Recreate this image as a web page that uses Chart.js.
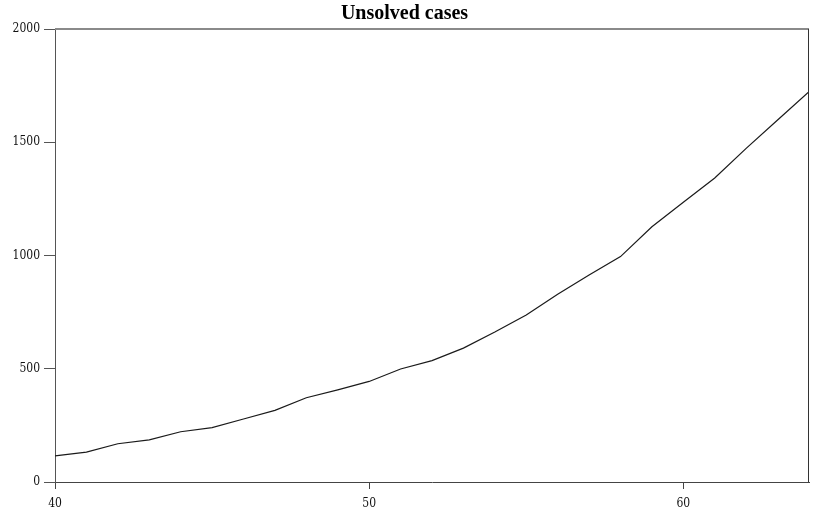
<!DOCTYPE html>
<html>
<head>
<meta charset="utf-8">
<script src="https://cdn.jsdelivr.net/npm/chart.js@4.4.1/dist/chart.umd.min.js"></script>
<style>
  html, body { margin: 0; padding: 0; background: #fff; }
  #wrap { width: 813px; height: 511px; }
</style>
</head>
<body>
<div id="wrap"><canvas id="chart"></canvas></div>
<script>
// day number on x, cases on y
const days = [40, 41, 42, 43, 44, 45, 46, 47, 48, 49, 50, 51, 52,
  53, 54, 55, 56, 57, 58, 59, 60, 61, 62, 63, 64];
const unsolved = [115, 132, 169, 186, 222, 240, 278, 316, 372, 407, 444, 499, 536,
  591, 662, 737, 829, 914, 995, 1127, 1235, 1342, 1473, 1598, 1723];
const xTicks = [40, 50, 60];
const yTicks = [0, 500, 1000, 1500, 2000];

const tickFont = { family: "'DejaVu Serif Condensed', 'DejaVu Serif', serif", size: 12 };

const framePlugin = {
  id: "frame",
  afterDraw(chart) {
    const { ctx, chartArea: a } = chart;
    ctx.save();
    ctx.strokeStyle = "#8a8a8a";
    ctx.lineWidth = 2;
    ctx.beginPath();
    ctx.moveTo(a.left, a.top);
    ctx.lineTo(a.right, a.top);
    ctx.stroke();
    ctx.strokeStyle = "#333";
    ctx.lineWidth = 1;
    ctx.beginPath();
    ctx.moveTo(a.right - 0.5, a.top);
    ctx.lineTo(a.right - 0.5, a.bottom);
    ctx.stroke();
    ctx.restore();
  },
};

new Chart("chart", {
  type: "line",
  data: {
    datasets: [{
      data: days.map((d, i) => ({ x: d, y: unsolved[i] })),
      borderColor: "#1a1a1a",
      borderWidth: 1.2,
      pointRadius: 0,
      tension: 0,
      fill: false,
    }],
  },
  options: {
    responsive: true,
    maintainAspectRatio: false,
    animation: false,
    layout: { padding: { left: 0, right: 4, top: 0, bottom: 0 } },
    plugins: {
      legend: { display: false },
      tooltip: { enabled: false },
      title: {
        display: true,
        text: "Unsolved cases",
        color: "#000",
        font: { family: "'Liberation Serif', 'Times New Roman', serif", size: 20, weight: "bold" },
        padding: { top: 2, bottom: 3 },
      },
    },
    scales: {
      x: {
        type: "linear",
        min: 40,
        max: 64,
        afterFit: s => { s.height = 29; },
        afterBuildTicks: s => { s.ticks = xTicks.map(v => ({ value: v })); },
        ticks: { font: tickFont, color: "#111", padding: 8, maxRotation: 0, callback: v => String(v) },
        grid: { drawOnChartArea: false, tickLength: 7, color: "#444" },
        border: { color: "#444", width: 1 },
      },
      y: {
        min: 0,
        max: 2000,
        afterFit: s => { s.width = 55; },
        afterBuildTicks: s => { s.ticks = yTicks.map(v => ({ value: v })); },
        ticks: { font: tickFont, color: "#111", padding: 4, callback: v => String(v) },
        grid: { drawOnChartArea: false, tickLength: 11, color: "#555" },
        border: { color: "#555", width: 1 },
      },
    },
  },
  plugins: [framePlugin],
});
</script>
</body>
</html>
